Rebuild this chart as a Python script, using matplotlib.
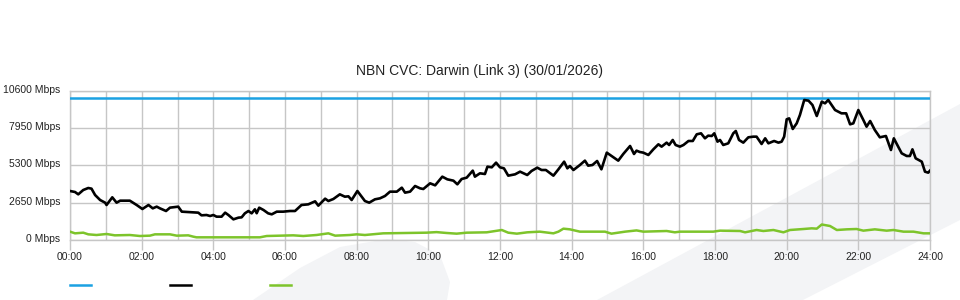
import matplotlib
matplotlib.use("Agg")
import matplotlib.pyplot as plt
import matplotlib.transforms as mtransforms
from matplotlib.patches import Polygon
from matplotlib.lines import Line2D

plt.rcParams['font.family'] = ['Liberation Sans', 'DejaVu Sans']

# time of day in hours
hours_in = [0.00, 0.14, 0.23, 0.37, 0.51, 0.60, 0.70, 0.84, 0.98, 1.02, 1.18, 1.30, 1.40, 1.67,
            1.86, 2.02, 2.19, 2.31, 2.42, 2.51, 2.68, 2.79, 3.02, 3.12, 3.44, 3.58, 3.67, 3.81,
            3.91, 4.00, 4.09, 4.23, 4.33, 4.42, 4.56, 4.70, 4.79, 4.88, 4.98, 5.07, 5.16, 5.21,
            5.28, 5.40, 5.53, 5.63, 5.77, 5.95, 6.14, 6.28, 6.46, 6.65, 6.84, 6.93, 7.12, 7.21,
            7.35, 7.53, 7.67, 7.77, 7.86, 8.02, 8.14, 8.23, 8.35, 8.51, 8.65, 8.79, 8.93, 9.12,
            9.26, 9.35, 9.49, 9.63, 9.77, 9.86, 10.05, 10.19, 10.39, 10.53, 10.70, 10.81, 10.93,
            11.07, 11.24, 11.30, 11.44, 11.58, 11.65, 11.77, 11.89, 12.00, 12.11, 12.23, 12.42,
            12.56, 12.76, 12.88, 13.04, 13.16, 13.28, 13.49, 13.63, 13.79, 13.88, 13.95, 14.05,
            14.23, 14.37, 14.46, 14.58, 14.71, 14.83, 14.98, 15.30, 15.44, 15.63, 15.74, 15.81,
            15.90, 16.00, 16.14, 16.28, 16.42, 16.51, 16.65, 16.72, 16.82, 16.90, 17.02, 17.12,
            17.26, 17.38, 17.49, 17.61, 17.72, 17.81, 17.91, 17.98, 18.07, 18.14, 18.23, 18.37,
            18.51, 18.58, 18.67, 18.79, 18.93, 19.07, 19.16, 19.30, 19.40, 19.49, 19.65, 19.77,
            19.86, 19.93, 20.00, 20.07, 20.17, 20.28, 20.37, 20.49, 20.61, 20.72, 20.84, 20.98,
            21.07, 21.16, 21.35, 21.44, 21.53, 21.66, 21.77, 21.86, 22.00, 22.14, 22.23, 22.33,
            22.46, 22.60, 22.77, 22.91, 22.99, 23.21, 23.35, 23.44, 23.51, 23.60, 23.77, 23.86,
            23.95, 24.00]
traffic_in = [3479, 3408, 3242, 3550, 3692, 3645, 3195, 2840, 2650, 2485, 3030, 2650, 2792, 2792,
              2485, 2201, 2485, 2248, 2367, 2248, 2059, 2296, 2367, 2012, 1964, 1941, 1751, 1775,
              1704, 1775, 1657, 1657, 1941, 1775, 1467, 1586, 1609, 1893, 2059, 1893, 2177, 1900,
              2296, 2130, 1893, 1822, 2012, 2012, 2059, 2059, 2485, 2532, 2745, 2438, 2934, 2769,
              2911, 3242, 3076, 3100, 2840, 3479, 3076, 2769, 2650, 2887, 2958, 3124, 3432, 3432,
              3716, 3361, 3432, 3834, 3668, 3621, 4024, 3882, 4497, 4308, 4213, 3953, 4331,
              4426, 4923, 4497, 4734, 4686, 5207, 5160, 5491, 5160, 5089, 4568, 4663,
              4852, 4615, 4900, 5136, 4970, 4970, 4568, 5018, 5562, 5089, 5254, 4970,
              5325, 5633, 5278, 5325, 5609, 5018, 6201, 5633, 6107, 6675, 6107, 6343,
              6250, 6201, 6036, 6438, 6793, 6628, 6912, 6746, 7101, 6746, 6628, 6746,
              7030, 7030, 7503, 7574, 7219, 7408, 7384, 7574, 6982, 7101, 6746, 6864,
              7574, 7740, 7101, 6912, 7290, 7337, 7337, 6817, 7219, 6864, 7030, 6912,
              6982, 7337, 8567, 8637, 7882, 8283, 8874, 9939, 9892, 9584, 8803, 9821,
              9703, 9939, 9229, 9111, 8993, 8993, 8212, 8283, 9229, 8520, 8046, 8449,
              7810, 7290, 7384, 6391, 7219, 6154, 5965, 5965, 6438, 5799, 5562, 4852,
              4781, 4923]

hours_out = [0.00, 0.14, 0.37, 0.51, 0.74, 1.02, 1.25, 1.67, 1.95, 2.23, 2.37, 2.79, 2.98, 3.30,
             3.44, 3.53, 5.30, 5.49, 6.23, 6.51, 6.88, 7.21, 7.40, 7.81, 8.00, 8.23, 8.74, 9.95,
             10.23, 10.50, 10.79, 11.07, 11.63, 12.05, 12.23, 12.47, 12.76, 13.11, 13.49, 13.63,
             13.77, 13.95, 14.23, 14.93, 15.11, 15.49, 15.81, 16.00, 16.65, 16.88, 17.02, 17.95,
             18.14, 18.70, 18.84, 19.16, 19.35, 19.63, 19.91, 20.09, 20.47, 20.70, 20.84, 20.98,
             21.21, 21.40, 21.68, 21.95, 22.14, 22.46, 22.79, 22.98, 23.26, 23.54, 23.82, 24.00]
traffic_out = [592, 473, 520, 402, 355, 426, 331, 355, 284, 308, 402, 402, 308, 331,
               237, 190, 190, 284, 331, 284, 355, 473, 308, 355, 402, 355, 473, 520,
               560, 500, 450, 520, 545, 710, 520, 450, 545, 592, 473, 592,
               805, 757, 592, 592, 450, 592, 680, 592, 639, 545, 592, 592,
               663, 639, 545, 710, 639, 710, 545, 710, 781, 828, 805, 1100,
               994, 710, 757, 781, 663, 757, 663, 710, 592, 592, 473, 473]

capacity = 10050

y_ticks = [0, 2650, 5300, 7950, 10600]
y_labels = ['0 Mbps', '2650 Mbps', '5300 Mbps', '7950 Mbps', '10600 Mbps']
x_ticks = list(range(0, 25, 2))
x_labels = ['%02d:00' % h for h in x_ticks]

blue = '#1ba1e2'
green = '#7dc42b'
grid_col = '#c6c6c6'

fig = plt.figure(figsize=(9.6, 3.0), dpi=100)

# faint background watermark shapes (figure pixel coords -> fraction)
def px(pts):
    return [(x / 960, 1 - y / 300) for x, y in pts]

band = Polygon(px([(597, 300), (960, 104), (960, 220), (803, 300)]),
               closed=True, transform=fig.transFigure, facecolor='#f3f4f6',
               edgecolor='none', zorder=0)
blob = Polygon(px([(253, 300), (300, 268), (340, 247), (387, 239), (415, 242),
                   (440, 255), (450, 282), (447, 300)]),
               closed=True, transform=fig.transFigure, facecolor='#f3f4f6',
               edgecolor='none', zorder=0)
fig.add_artist(band)
fig.add_artist(blob)

ax = fig.add_axes([70 / 960, 60 / 300, 860 / 960, 149.3 / 300])
ax.set_facecolor('none')

ax.axhline(capacity, color=blue, lw=1.8, zorder=3)
ax.plot(hours_in, traffic_in, color='black', lw=1.9, zorder=4)
ax.plot(hours_out, traffic_out, color=green, lw=1.8, zorder=3)

ax.set_xlim(0, 24)
ax.set_ylim(0, 10600)
ax.set_xticks(x_ticks)
ax.set_xticklabels(x_labels)
ax.set_xticks(range(0, 25), minor=True)
ax.set_yticks(y_ticks)
ax.set_yticklabels(y_labels)

ax.grid(True, which='both', color=grid_col, lw=1.0, zorder=1)
ax.set_axisbelow(True)
for s in ax.spines.values():
    s.set_color(grid_col)
    s.set_linewidth(1.0)

ax.tick_params(axis='x', which='major', length=7, width=1.0, color=grid_col,
               labelsize=7.5, labelcolor='#222222', pad=1.5)
ax.tick_params(axis='x', which='minor', length=0)
ax.tick_params(axis='y', length=0, labelsize=7.5, labelcolor='#222222', pad=7)

# y labels sit a touch above their grid lines
shift = mtransforms.ScaledTranslation(0, 2 / 100, fig.dpi_scale_trans)
for lab in ax.get_yticklabels():
    lab.set_transform(lab.get_transform() + shift)

fig.text(0.5, 1 - 71 / 300, 'NBN CVC: Darwin (Link 3) (30/01/2026)',
         ha='center', va='center', fontsize=10, color='#222222')

# legend swatches (no labels)
for x0, c in [(70, blue), (170, 'black'), (270, green)]:
    fig.add_artist(Line2D([x0 / 960, (x0 + 21) / 960], [1 - 285 / 300] * 2,
                          color=c, lw=1.8, transform=fig.transFigure))

fig.savefig('out.png', dpi=100)
